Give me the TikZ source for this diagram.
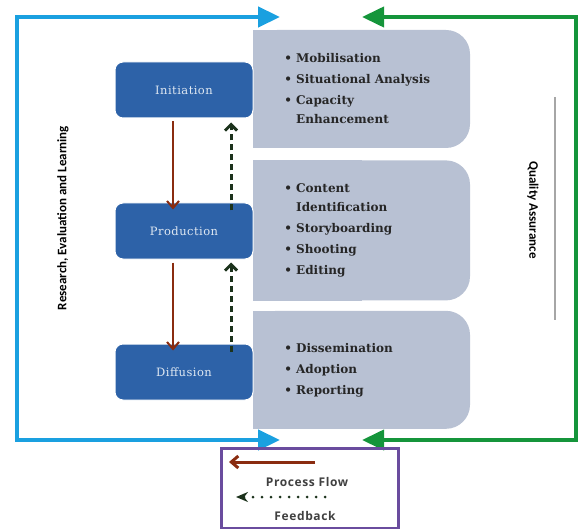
\documentclass[tikz,border=0pt]{standalone}
\usepackage{fontspec}
\usepackage{tikz}
\usetikzlibrary{arrows,arrows.meta,positioning}
\newfontfamily\itemfont{DejaVu Serif}
\newfontfamily\stagefont[LetterSpace=4]{DejaVu Serif}
\newfontfamily\sidefont{Carlito}
\newfontfamily\legendfont[LetterSpace=5]{Open Sans}
\definecolor{stageblue}{HTML}{2D62A8}
\definecolor{panelgray}{HTML}{B8C1D3}
\definecolor{relblue}{HTML}{1AA0E0}
\definecolor{qagreen}{HTML}{15953B}
\definecolor{flowbrown}{HTML}{8A2C10}
\definecolor{fbgreen}{HTML}{1C321C}
\definecolor{legendpurple}{HTML}{6A4C9E}

\begin{document}
\begin{tikzpicture}[x=1pt,y=-1pt,
    stage/.style={rectangle,rounded corners=8pt,fill=stageblue,draw=white,line width=1pt,minimum width=138pt,minimum height=56pt,font=\stagefont\fontsize{11.5}{13}\selectfont,text=white!85!stageblue},
    panel/.style={rectangle,rounded corners=24pt,fill=panelgray,minimum width=217pt},
    items/.style={anchor=west,align=left,font=\itemfont\bfseries\fontsize{12}{19}\selectfont,text=black!85},
    flow/.style={color=flowbrown,line width=2pt,-{Straight Barb[length=7pt,width=12pt]}},
    feedback/.style={color=fbgreen,line width=3pt,dash pattern=on 6pt off 4pt,-{Straight Barb[length=6pt,width=12pt]}},
    frame/.style={line width=4.5pt,line join=miter,{Triangle[length=22pt,width=20pt]}-{Triangle[length=22pt,width=20pt]}},
    side/.style={font=\sidefont\bfseries\fontsize{13}{15}\selectfont,text=black},
    legendtext/.style={font=\legendfont\bfseries\fontsize{12}{14}\selectfont,text=black!75}]
    \useasboundingbox (0,0) rectangle (580,529);

    \node[panel,minimum height=118pt] (init-panel) at (361.5,89) {};
    \node[panel,minimum height=140pt] (prod-panel) [below=12pt of init-panel] {};
    \node[panel,minimum height=118pt] (diff-panel) [below=10pt of prod-panel] {};
    \fill[panelgray] (init-panel.north west) rectangle (init-panel.south);
    \fill[panelgray] (prod-panel.north west) rectangle (prod-panel.south);
    \fill[panelgray] (diff-panel.north west) rectangle (diff-panel.south);

    \node[items,right=28pt of init-panel.west] (init-items) {\textbullet\ Mobilisation\\[2pt] \textbullet\ Situational Analysis\\[2pt] \textbullet\ Capacity\\ \phantom{\textbullet\ }Enhancement};
    \node[items,right=28pt of prod-panel.west] (prod-items) {\textbullet\ Content\\ \phantom{\textbullet\ }Identification\\[2pt] \textbullet\ Storyboarding\\[2pt] \textbullet\ Shooting\\[2pt] \textbullet\ Editing};
    \node[items,right=28pt of diff-panel.west] (diff-items) {\textbullet\ Dissemination\\[2pt] \textbullet\ Adoption\\[2pt] \textbullet\ Reporting};

    \node[stage] (init) at (184,90) {Initiation};
    \node[stage] (prod) [below=84pt of init] {Production};
    \node[stage] (diff) [below=84pt of prod] {Diffusion};

    \path[flow]
    ([xshift=-11pt]init.south) edge[shorten <=3pt,shorten >=-7pt] ([xshift=-11pt]prod.north)
    ([xshift=-11pt]prod.south) edge[shorten <=3pt,shorten >=-7pt] ([xshift=-11pt]diff.north);

    \path[feedback]
    ([xshift=47pt,yshift=-8pt]prod.north) edge[shorten >=4pt] ([xshift=47pt]init.south)
    ([xshift=47pt,yshift=-8pt]diff.north) edge[shorten >=3pt] ([xshift=47pt]prod.south);

    \coordinate (rel-top) at (280,17);
    \coordinate (rel-bot) at (280,440);
    \coordinate (qa-top) at (362,17);
    \coordinate (qa-bot) at (362,440);
    \draw[frame,relblue] (rel-top) -| (17,440) -- (rel-bot);
    \draw[frame,qagreen,line width=4pt] (qa-top) -| (576,440) -- (qa-bot);

    \node[side,rotate=90] (rel-label) at (63,218) {Research, Evaluation and Learning};
    \node[side,rotate=-90] (qa-label) at (533,210) {Quality Assurance};
    \draw[gray!70,line width=1.5pt] (555,97) -- (555,320);

    \node[draw=legendpurple,line width=3pt,minimum width=177pt,minimum height=80pt] (legend) at (310,488) {};
    \coordinate (flow-a) at (315,462);
    \coordinate (flow-b) at (229,462);
    \coordinate (fb-a) at (325,497);
    \coordinate (fb-b) at (236,497);
    \draw[flow,line width=3pt] (flow-a) -- (flow-b);
    \draw[fbgreen,line width=3pt,line cap=round,dash pattern=on 0pt off 9pt,-{Stealth[length=12pt,width=10pt]}] (fb-a) -- (fb-b);
    \node[legendtext] (flow-label) at (307,482) {Process Flow};
    \node[legendtext] (fb-label) at (305,516) {Feedback};
\end{tikzpicture}
\end{document}
